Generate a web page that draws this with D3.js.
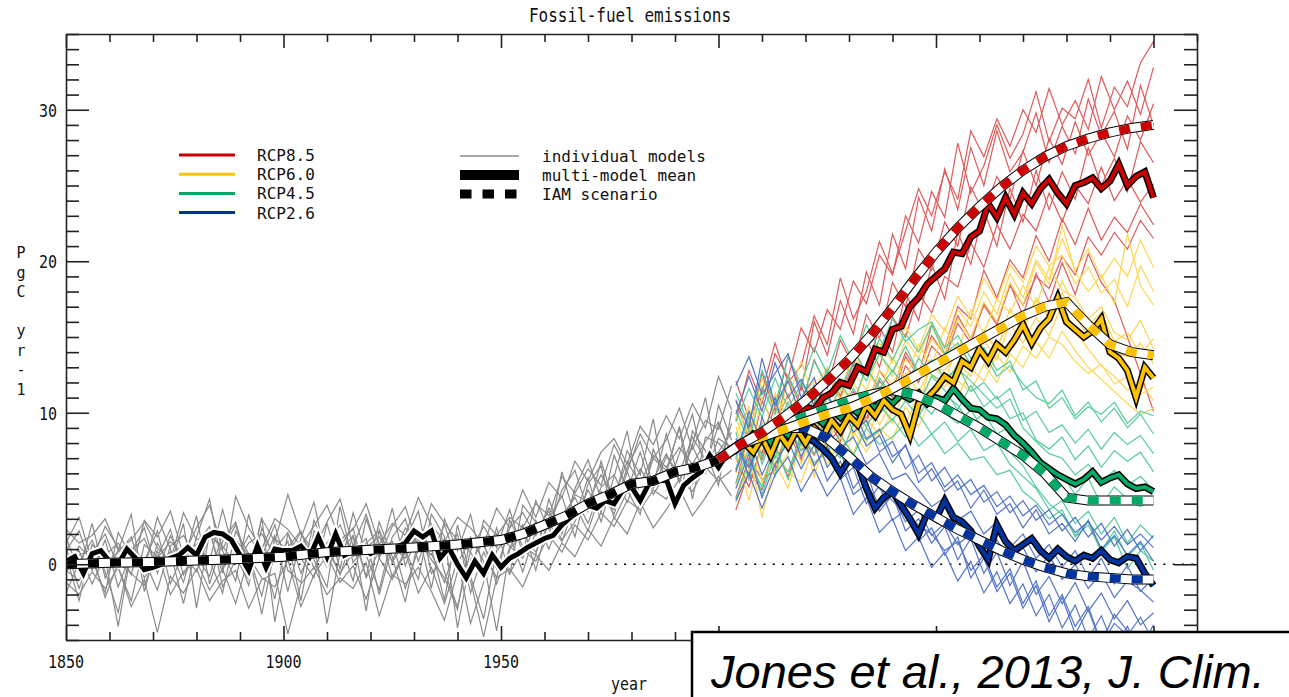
<!DOCTYPE html>
<html>
<head>
<meta charset="utf-8">
<script src="https://cdn.jsdelivr.net/npm/d3@7"></script>
<style>
body { margin: 0; background: #fff; }
</style>
</head>
<body>
<div id="viz"></div>
<script>
// ---- values, PgC / yr ----

// years
var histYears = d3.range(1850, 2004, 3)       // individual models, historical
var rcpYears = d3.range(2004, 2101, 3)        // individual models, scenarios
var histMeanYears = d3.range(1850, 2005, 2)
var rcpMeanYears = d3.range(2006, 2101, 2)
var iamHistYears = [1850,1860,1870,1880,1890,1900,1910,1920,1930,1940,1950,1955,1960,1965,1970,1975,1980,1985,1990,1995,2000]
var iamRcpYears = d3.range(2000, 2101, 5)

// individual models 1850-2003
var hist1 = [1.8,-0.5,2.7,-0.9,0.9,3.3,-1.8,1.4,-0.1,2.7,-2.9,2.1,0.9,-1.1,3.3,-0.1,1.9,-1.8,1.7,4.1,0.0,1.5,-1.1,3.0,0.5,3.7,-0.1,2.1,-1.6,3.0,0.9,3.3,-0.4,2.4,-0.7,3.9,2.8,1.8,6.1,3.1,5.7,2.8,5.8,8.8,4.3,7.0,6.2,9.0,4.3,8.4,8.0,6.9]
var hist2 = [0.9,2.2,-0.4,1.6,-1.5,0.8,2.4,-0.6,1.9,0.1,3.2,-1.3,1.5,2.8,-0.2,1.0,-2.3,2.0,0.4,-0.9,2.7,-0.3,3.4,0.6,-1.7,1.8,3.0,0.2,2.6,-0.5,-2.8,0.9,2.5,1.1,3.6,0.7,4.2,2.3,4.9,6.2,3.5,6.8,4.1,7.5,5.9,9.6,4.8,7.3,9.9,6.1,10.5,8.2]
var hist3 = [-0.6,1.2,0.3,-1.9,2.1,0.5,-0.4,3.1,1.0,-1.2,1.8,4.3,-0.3,0.9,-1.4,2.4,0.3,1.5,-2.4,2.2,1.3,-0.7,1.9,-3.1,2.3,0.1,1.6,3.5,-0.6,0.4,2.0,-1.9,0.8,-0.9,2.9,1.2,0.6,4.3,2.0,5.0,6.9,4.3,3.6,6.4,8.1,5.2,8.6,5.5,7.9,11.0,6.4,9.3]
var hist4 = [1.1,-1.6,0.8,2.0,-0.2,-2.4,1.3,0.5,2.3,-0.7,1.0,0.2,3.6,0.4,-1.0,3.1,-3.8,0.7,2.1,0.3,-1.5,3.8,0.1,1.4,2.2,-0.8,0.9,-1.0,3.3,1.8,-4.2,0.3,1.4,-1.3,1.1,2.6,-0.4,3.0,4.5,1.8,5.3,6.5,3.0,4.8,7.4,4.6,6.0,9.1,5.3,6.5,9.2,7.4]
var hist5 = [0.4,0.9,-1.3,0.6,1.4,-0.1,0.3,-1.7,1.2,1.9,0.5,-0.8,2.0,1.6,0.6,-2.1,1.7,0.9,0.4,1.6,-0.2,1.2,2.4,-0.9,0.9,1.5,-1.6,1.0,0.7,-1.2,1.5,0.8,-0.8,2.0,1.2,0.4,2.9,1.0,3.2,4.4,2.7,5.1,5.9,4.1,6.3,5.0,7.1,6.0,8.4,6.9,7.4,8.7]
var hist6 = [-1.9,0.1,1.6,-0.5,-3.2,1.1,0.2,2.2,-1.3,0.8,1.3,2.5,-1.5,0.3,1.9,0.5,2.6,-0.4,-1.2,2.9,1.0,-0.6,0.8,1.7,-2.0,1.2,0.4,2.2,1.1,-2.4,2.6,-0.8,-3.6,0.9,1.9,-0.5,2.2,3.5,1.6,2.8,4.9,3.4,7.2,4.9,3.3,7.6,5.5,4.0,8.8,7.5,5.2,10.1]
var hist7 = [2.3,1.4,1.9,3.0,0.9,1.6,2.8,1.1,0.2,3.4,1.6,2.1,-0.6,4.5,2.4,1.0,3.0,2.3,1.2,2.5,3.9,1.6,2.3,4.0,1.3,2.7,1.9,4.4,2.6,1.5,3.1,2.4,1.3,3.7,2.4,4.9,3.1,5.4,4.4,6.8,5.5,7.4,8.3,6.6,9.1,7.9,9.8,8.3,10.6,9.0,12.4,10.2]
var hist8 = [-1.2,-2.0,-0.5,-1.6,-0.2,-2.8,-1.0,-4.5,-0.8,-1.9,-0.3,-2.4,-1.1,-0.4,-2.9,-1.0,-0.6,-4.6,-1.3,-0.2,-2.0,-0.9,-1.6,0.1,-3.4,-0.7,-1.3,-0.2,-1.8,-3.7,-0.5,-1.1,-4.8,-0.9,-0.3,-1.5,0.6,-0.4,1.4,0.5,2.3,1.2,3.1,2.0,4.1,2.4,3.6,5.0,3.2,4.4,5.8,4.5]
var hist9 = [0.0,0.6,1.0,0.2,0.8,1.8,-0.9,0.4,1.5,0.7,-0.5,1.9,1.2,0.0,1.4,2.0,0.6,1.1,2.2,-0.3,1.4,2.6,0.5,1.1,1.8,0.2,2.4,1.3,0.6,2.6,0.1,1.6,1.2,-0.3,2.4,3.4,1.9,3.7,2.6,4.6,4.1,5.9,4.4,6.8,5.3,7.2,6.4,7.7,6.6,8.1,9.4,7.1]
var hist10 = [0.6,-2.4,1.3,0.4,-4.1,0.9,1.7,-0.3,0.8,-2.6,1.2,0.3,-1.9,2.2,0.7,-3.3,1.0,2.1,-0.6,1.4,-3.9,0.8,1.9,-0.8,2.8,0.5,-2.5,1.7,0.3,-0.9,-3.0,1.8,0.2,-4.4,1.0,2.0,0.8,2.7,1.5,3.9,2.2,4.8,3.3,6.1,4.0,5.6,7.3,5.4,7.8,6.0,8.3,7.7]
var hist11 = [1.4,3.1,0.2,2.5,1.1,-0.7,2.9,1.8,3.5,0.6,2.4,3.9,1.0,2.6,-0.4,3.0,1.5,4.6,2.0,0.9,2.8,4.3,1.2,3.3,0.4,2.5,3.8,1.1,4.0,2.7,1.6,-0.8,2.9,1.9,3.1,2.4,4.0,3.2,5.8,4.7,6.3,5.2,7.9,6.1,8.6,7.0,8.2,10.3,7.6,9.5,8.9,11.8]
var hist12 = [-0.4,-1.1,0.7,-2.2,0.1,-0.6,-1.4,0.9,-2.0,-0.5,0.2,-1.7,-0.3,-2.6,0.5,-0.9,-1.5,0.3,-2.8,-0.7,0.6,-1.2,-0.1,-2.3,0.4,-1.0,0.8,-1.9,-0.2,-2.6,0.3,-3.9,-1.2,0.6,-0.6,1.0,0.2,1.9,0.8,2.6,1.6,3.4,2.5,4.2,3.6,4.9,4.3,5.6,4.8,6.4,5.5,6.2]

// individual models 2004-2100
var rcp85_1 = [9.5,12.8,10.6,13.9,12.3,15.6,14.0,16.8,15.5,18.7,17.2,20.4,19.1,23.0,21.2,24.6,22.9,27.8,24.5,26.3,29.0,26.8,28.4,31.2,27.9,30.1,29.4,32.0,28.8,31.5,30.2,33.1,34.5]
var rcp85_2 = [8.1,6.5,10.9,9.0,12.4,10.3,13.5,11.6,14.8,13.1,16.5,14.9,18.6,17.0,20.8,19.4,22.6,21.0,24.9,23.2,25.6,24.1,27.3,25.0,28.1,26.4,29.2,27.0,28.5,26.9,29.6,28.0,30.4]
var rcp85_3 = [6.2,9.4,7.3,10.6,8.4,11.8,9.6,12.5,10.9,14.2,12.6,15.7,14.0,17.9,16.1,19.8,17.5,21.9,19.8,23.4,21.0,24.8,22.6,26.0,23.4,25.9,24.1,27.5,25.0,26.8,24.6,27.9,26.5]
var rcp85_4 = [4.4,7.0,5.6,6.2,8.8,6.9,9.7,7.9,9.0,10.8,9.6,12.1,11.0,13.7,12.4,15.8,14.3,17.0,16.2,19.4,17.6,20.1,18.9,21.7,20.0,22.8,21.1,23.5,21.4,22.9,21.9,23.8,22.4]
var rcp85_5 = [7.0,5.1,8.0,6.4,9.1,7.5,8.6,10.2,8.9,11.4,10.3,12.8,11.5,14.0,12.6,15.1,13.8,16.4,14.9,17.1,15.8,18.5,16.4,19.2,17.3,19.9,17.8,20.5,18.6,17.4,15.0,12.6,10.1]
var rcp85_6 = [10.8,8.3,12.6,10.1,13.7,11.5,16.0,13.8,17.4,15.2,19.3,17.1,21.8,19.5,24.2,22.0,26.1,23.4,27.5,25.0,28.6,25.9,27.2,29.8,26.5,28.9,27.1,30.7,28.3,29.9,27.4,31.6,29.0]
var rcp85_7 = [5.3,8.7,6.9,9.3,11.2,8.5,10.6,12.9,11.1,13.2,14.9,13.0,16.3,15.0,17.9,16.6,19.0,18.3,21.2,19.6,22.4,20.8,23.1,22.0,24.5,22.6,25.0,23.8,26.2,24.0,25.4,23.9,25.1]
var rcp85_8 = [12.1,9.6,11.4,14.6,12.0,13.1,16.4,14.5,18.9,16.2,18.0,21.3,19.2,22.0,24.8,23.0,25.9,24.1,28.6,26.9,29.4,27.6,30.0,28.5,31.4,29.0,30.6,28.7,32.2,30.0,31.9,29.7,32.8]
var rcp85_9 = [3.6,6.1,4.9,7.7,5.8,8.4,7.2,9.6,8.1,10.5,9.4,11.6,10.7,13.1,12.0,14.4,13.5,15.9,14.6,17.2,16.0,18.4,17.1,19.0,18.2,20.3,19.1,21.6,20.4,21.9,20.8,22.7,21.5]

var rcp60_1 = [9.8,7.1,11.0,8.8,12.2,9.5,11.6,13.0,10.9,12.7,11.5,13.9,12.4,14.8,13.6,15.9,14.2,16.8,15.7,18.0,16.5,19.2,17.6,20.1,18.8,21.5,19.4,20.8,18.9,20.2,19.0,21.4,19.6]
var rcp60_2 = [6.0,8.9,5.4,7.8,9.9,6.6,9.0,7.7,10.3,8.4,11.1,9.2,10.8,12.3,10.4,13.4,12.0,14.6,13.1,15.5,14.0,16.9,15.3,17.6,16.2,18.7,16.9,15.8,16.6,14.7,15.3,13.8,14.9]
var rcp60_3 = [7.5,4.2,8.1,6.0,7.3,9.4,5.8,8.6,7.2,9.1,8.0,10.6,9.3,11.8,10.1,12.5,11.7,13.3,12.4,14.8,13.5,15.9,14.6,16.3,15.1,17.2,15.4,14.2,13.1,12.4,11.5,12.0,10.8]
var rcp60_4 = [8.6,10.4,7.9,11.3,9.6,10.8,12.1,9.9,11.7,10.6,12.9,11.4,13.6,12.2,14.5,13.1,15.6,14.0,16.8,15.2,17.5,16.6,18.4,17.0,19.6,18.1,17.6,16.2,17.0,15.3,14.8,16.1,14.2]
var rcp60_5 = [5.2,7.6,3.1,6.8,5.0,8.1,6.4,7.9,5.9,8.8,7.4,9.0,8.2,10.4,9.1,11.0,10.3,12.1,11.4,13.2,12.0,13.9,13.0,14.7,13.6,15.4,14.1,13.0,12.2,11.4,10.6,9.9,10.3]
var rcp60_6 = [9.1,6.3,8.7,10.6,7.8,9.7,8.4,11.2,9.8,12.0,10.5,12.8,11.9,13.5,12.7,14.9,13.8,16.2,14.9,17.3,16.0,18.6,17.1,19.9,18.5,22.4,19.3,18.0,19.1,17.2,21.8,18.4,17.1]
var rcp60_7 = [6.8,8.0,9.4,7.0,8.5,7.6,10.0,8.2,9.5,11.0,9.0,11.7,10.2,12.6,11.4,13.0,12.8,13.9,13.2,15.1,14.4,16.0,15.7,17.4,16.5,17.9,16.3,15.1,15.8,14.0,13.7,14.6,13.2]
var rcp60_8 = [10.9,8.4,12.3,9.9,11.0,13.4,10.8,12.2,11.4,13.8,12.5,14.6,13.3,15.7,14.2,16.5,15.4,17.7,16.3,18.9,17.4,19.8,18.6,21.0,19.7,20.4,18.5,19.6,17.9,18.8,17.0,19.7,18.0]
var rcp60_9 = [4.1,6.3,5.2,7.5,6.1,5.4,7.9,6.6,8.4,7.3,9.6,8.5,10.1,9.2,11.3,10.4,12.2,11.0,12.9,12.1,13.8,12.7,14.4,13.6,15.0,14.5,13.4,12.6,13.2,11.9,12.4,11.2,11.7]

var rcp45_1 = [10.2,8.0,11.7,9.9,12.5,10.6,13.4,11.8,12.9,14.2,12.6,14.9,13.5,15.2,14.0,15.8,13.9,14.6,13.2,14.0,12.4,13.1,11.9,11.0,10.6,11.5,9.8,10.7,9.4,10.3,9.0,9.9,8.6]
var rcp45_2 = [6.3,8.9,7.1,9.6,8.3,10.4,8.7,11.0,9.8,11.6,10.2,12.3,11.1,12.0,10.6,12.4,11.5,10.2,11.8,10.4,11.1,9.6,10.0,8.2,7.6,8.4,6.9,7.8,6.4,7.5,6.8,7.4,6.1]
var rcp45_3 = [8.7,5.5,9.2,7.0,10.1,7.8,9.0,8.1,10.6,9.2,11.4,10.0,10.6,11.9,10.8,9.9,11.2,10.5,9.2,10.0,8.6,9.1,7.4,6.8,5.2,5.9,4.6,5.7,3.9,5.1,4.3,3.8,4.4]
var rcp45_4 = [7.0,9.8,6.6,8.9,10.7,8.4,11.1,9.3,11.9,10.7,13.0,11.6,12.8,11.7,13.6,12.5,12.0,13.1,11.4,12.0,10.9,11.6,9.5,10.1,8.7,9.2,8.0,8.9,7.6,8.7,7.9,8.5,7.3]
var rcp45_5 = [5.4,7.7,4.6,7.2,6.1,8.6,7.3,8.0,7.0,9.3,8.2,8.8,9.6,8.4,9.9,8.6,9.4,8.1,8.9,7.5,8.0,6.6,5.8,5.0,3.6,4.2,2.7,3.5,2.0,3.1,1.4,2.6,1.7]
var rcp45_6 = [9.4,11.6,9.7,12.3,10.3,11.9,10.8,12.8,11.6,13.3,12.1,13.9,12.7,14.4,12.6,13.5,12.3,12.9,12.1,11.2,10.3,10.9,9.0,8.1,7.3,7.0,5.9,6.6,5.4,6.2,5.2,5.8,4.9]
var rcp45_7 = [7.9,6.4,8.3,5.8,9.0,7.5,8.2,9.7,8.5,10.1,9.1,10.5,9.5,10.8,9.7,11.4,10.0,9.3,10.2,8.8,8.5,7.4,6.5,5.1,4.0,3.3,1.9,2.9,0.8,1.8,-0.3,0.9,0.2]
var rcp45_8 = [11.3,9.2,12.8,10.5,13.7,11.9,14.3,12.6,15.1,13.4,15.8,14.1,16.2,14.7,15.5,16.0,14.3,15.1,13.6,14.3,12.8,13.4,11.5,12.1,10.3,11.0,9.6,10.4,9.9,10.7,9.3,10.1,9.8]
var rcp45_9 = [4.3,6.8,5.1,7.9,5.6,8.2,6.7,7.4,8.6,7.2,9.0,7.9,8.4,9.3,7.8,8.6,7.3,8.0,6.9,7.1,5.9,6.2,4.8,4.1,3.0,3.6,1.8,2.6,0.9,2.2,0.5,1.4,-0.4]

var rcp26_1 = [9.9,12.4,10.1,13.3,11.0,12.2,10.5,11.3,9.4,10.2,8.3,8.9,7.1,7.8,6.0,6.7,5.1,5.9,4.6,5.2,3.8,4.5,3.2,3.9,2.6,3.3,2.1,2.8,1.6,2.5,1.3,2.0,1.1]
var rcp26_2 = [6.1,8.5,5.9,7.8,9.4,7.1,8.9,6.4,7.5,5.0,6.2,3.5,4.6,2.2,3.0,1.4,2.5,0.3,1.7,-0.6,0.8,-1.4,0.2,-2.0,-0.8,-2.6,-1.2,-3.1,-1.9,-3.6,-2.4,-4.0,-3.2]
var rcp26_3 = [8.3,5.8,9.7,7.6,10.2,8.0,9.6,8.8,7.7,8.4,6.6,7.3,5.6,6.0,4.9,3.8,4.4,2.9,3.5,2.0,2.8,1.1,2.0,0.4,1.3,-0.2,0.9,-0.9,0.4,-1.3,-0.1,-1.8,-0.9]
var rcp26_4 = [7.2,10.1,8.0,9.2,7.4,10.6,8.8,9.0,7.6,6.9,6.1,5.0,4.2,3.3,2.6,2.0,0.9,1.5,-0.4,0.6,-1.5,-0.3,-2.6,-1.1,-3.4,-2.0,-4.1,-2.8,-5.2,-3.3,-4.4,-5.6,-4.0]
var rcp26_5 = [5.0,7.3,4.4,6.6,8.1,6.3,7.9,5.5,6.8,4.6,5.3,3.9,4.5,2.8,3.6,1.9,2.7,1.3,2.0,0.9,1.6,0.3,1.1,-0.5,0.6,-1.0,0.0,-1.6,-0.6,-2.2,-1.1,-1.7,-2.5]
var rcp26_6 = [10.8,9.0,13.6,10.5,12.1,9.8,11.8,10.1,9.2,9.6,7.8,8.5,6.7,7.9,5.4,6.3,4.8,5.5,3.7,4.9,3.3,4.0,2.4,3.6,2.0,2.7,1.5,2.9,1.0,1.9,0.6,1.5,0.2]
var rcp26_7 = [7.6,6.4,8.2,11.0,7.9,8.7,6.5,7.8,5.6,6.4,4.0,5.2,2.9,3.6,1.5,2.4,0.6,1.8,-0.9,0.4,-1.8,-0.6,-2.9,-1.4,-3.8,-2.2,-4.6,-3.0,-5.3,-3.9,-4.7,-3.5,-5.1]
var rcp26_8 = [11.8,13.7,11.2,12.6,13.9,11.0,12.3,9.9,10.8,8.7,9.5,7.4,8.1,6.3,7.2,5.5,6.4,4.9,5.6,4.1,4.8,3.4,4.2,2.9,3.6,2.2,3.1,1.8,2.7,1.2,2.3,0.9,1.9]
var rcp26_9 = [4.2,6.0,3.7,5.9,7.1,4.8,6.3,4.5,5.7,3.3,4.4,2.1,3.0,0.9,1.8,-0.2,0.8,-1.1,0.2,-1.9,-0.5,-2.6,-1.3,-3.4,-2.0,-4.2,-2.7,-4.9,-3.4,-5.5,-4.1,-6.0,-4.8]

// multi-model means
var histMean = [0.2,0.5,-0.6,0.7,0.9,0.2,0.0,1.0,0.4,-0.35,-0.2,0.0,0.4,0.6,1.1,0.6,1.8,2.1,2.0,1.6,0.6,-0.4,1.2,-0.2,1.0,0.9,0.9,1.2,0.5,1.8,0.5,2.0,0.6,0.9,1.1,0.7,1.0,1.0,1.1,1.4,2.2,1.8,2.2,0.4,1.1,0.0,-0.9,0.2,-0.6,0.6,-0.2,0.4,0.7,1.1,1.4,1.7,1.9,2.6,3.1,3.5,3.9,3.7,4.2,4.0,4.9,5.1,4.2,5.3,5.5,5.6,4.0,5.2,5.7,6.1,7.2,6.4,7.3,7.7]
var mean85 = [8.0,8.6,8.3,9.2,9.0,9.8,9.5,10.4,10.2,11.0,11.3,12.0,11.8,13.0,12.7,14.2,14.0,15.5,15.7,17.0,17.6,18.5,19.0,19.5,20.6,20.5,21.6,22.0,23.8,22.9,24.2,23.1,24.5,23.8,24.8,25.4,24.5,23.8,25.0,25.2,25.5,24.8,25.3,26.4,25.0,25.6,25.9,24.2]
var mean60 = [8.0,7.4,8.4,7.2,8.6,7.8,8.9,8.0,9.0,8.4,9.5,8.8,9.8,9.2,10.5,9.8,10.8,10.2,9.9,8.5,10.6,11.0,11.6,12.4,12.0,13.4,13.0,14.2,13.4,14.5,14.0,14.8,15.8,14.6,15.6,16.2,17.6,16.0,15.5,15.0,15.4,16.2,14.0,13.6,12.8,11.0,13.0,12.3]
var mean45 = [8.1,7.6,8.6,8.0,9.0,8.5,9.4,9.0,9.8,9.3,10.2,9.7,10.4,10.0,10.9,10.3,11.0,10.6,11.2,10.9,11.3,10.6,11.0,10.8,11.6,10.9,10.3,10.2,9.7,9.6,9.2,8.5,8.0,7.4,6.7,6.3,5.9,5.6,5.3,5.6,6.1,5.4,5.7,5.9,5.3,5.0,5.1,4.8]
var mean26 = [8.0,7.5,8.5,7.9,8.8,8.2,8.9,8.4,8.1,7.6,7.0,6.0,6.9,6.6,5.0,3.7,4.4,4.8,3.9,3.0,2.0,3.4,3.0,4.2,3.1,2.8,2.2,1.2,0.3,2.6,1.5,0.9,1.3,1.7,0.9,0.4,1.0,0.5,0.2,0.6,0.4,0.9,0.3,0.1,0.5,0.4,-0.6,-1.4]

// IAM scenarios
var iamHist = [0.0,0.1,0.15,0.25,0.35,0.5,0.8,0.95,1.1,1.3,1.6,2.0,2.6,3.2,4.0,4.6,5.3,5.5,6.1,6.4,6.9]
var iam85 = [6.9,7.9,8.7,9.7,10.8,12.1,13.5,15.1,16.9,18.8,20.6,22.2,23.6,24.9,26.0,26.9,27.6,28.1,28.5,28.8,29.0]
var iam60 = [6.9,7.9,8.4,8.9,9.4,9.9,10.3,10.9,11.6,12.4,13.2,14.0,14.8,15.6,16.4,17.0,17.3,15.8,14.5,14.0,13.8]
var iam45 = [6.9,7.9,8.6,9.2,9.8,10.3,10.8,11.2,11.5,11.2,10.6,9.8,9.0,8.1,7.2,6.0,4.4,4.2,4.2,4.2,4.2]
var iam26 = [6.9,7.9,8.6,9.0,9.0,8.3,7.1,5.8,4.8,3.9,3.1,2.3,1.6,0.9,0.3,-0.2,-0.6,-0.8,-0.9,-1.0,-1.0]

// tick labels (2000-2100 labels sit under the citation box in the original)
var yLabels = [0, 10, 20, 30]
var xLabels = [1850, 1900, 1950]

var histModels = [hist1, hist2, hist3, hist4, hist5, hist6, hist7, hist8, hist9, hist10, hist11, hist12]
var scenarios = [
  {name: "RCP8.5", models: [rcp85_1,rcp85_2,rcp85_3,rcp85_4,rcp85_5,rcp85_6,rcp85_7,rcp85_8,rcp85_9], mean: mean85, iam: iam85, light: "#de5a5a", dark: "#cc0000"},
  {name: "RCP6.0", models: [rcp60_1,rcp60_2,rcp60_3,rcp60_4,rcp60_5,rcp60_6,rcp60_7,rcp60_8,rcp60_9], mean: mean60, iam: iam60, light: "#ffd552", dark: "#ffc200"},
  {name: "RCP4.5", models: [rcp45_1,rcp45_2,rcp45_3,rcp45_4,rcp45_5,rcp45_6,rcp45_7,rcp45_8,rcp45_9], mean: mean45, iam: iam45, light: "#55cb9c", dark: "#00aa66"},
  {name: "RCP2.6", models: [rcp26_1,rcp26_2,rcp26_3,rcp26_4,rcp26_5,rcp26_6,rcp26_7,rcp26_8,rcp26_9], mean: mean26, iam: iam26, light: "#5475c9", dark: "#0033a0"}
]

var MONO = "'DejaVu Sans Mono', 'Liberation Mono', monospace"
var W = 1289, H = 697
var plot = {left: 66, right: 1197, top: 34, bottom: 640}

var svg = d3.select("#viz").append("svg")
  .attr("width", W)
  .attr("height", H)
  .style("display", "block")
  .style("background", "#fff")

// step 1 : scales ----
var x = d3.scaleLinear().domain([1850, 2110]).range([plot.left, plot.right])
var y = d3.scaleLinear().domain([-5, 35]).range([plot.bottom, plot.top])

function lineFor(years) {
  return d3.line()
    .x(function(d, i) { return x(years[i]) })
    .y(function(d) { return y(d) })
}

// stretched mono text, like the old plotting font
function label(txt, px, py, size, anchor, sy) {
  return svg.append("text")
    .attr("transform", "translate(" + px + "," + py + ") scale(1," + (sy || 1.2) + ")")
    .attr("font-family", MONO)
    .attr("font-size", size)
    .attr("fill", "#111")
    .attr("text-anchor", anchor || "start")
    .text(txt)
}

svg.append("clipPath").attr("id", "clip")
  .append("rect")
  .attr("x", plot.left).attr("y", plot.top)
  .attr("width", plot.right - plot.left).attr("height", plot.bottom - plot.top)

var g = svg.append("g").attr("clip-path", "url(#clip)")

// zero line
g.append("line")
  .attr("x1", x.range()[0]).attr("x2", x.range()[1])
  .attr("y1", y(0)).attr("y2", y(0))
  .attr("stroke", "#000")
  .attr("stroke-width", 1.6)
  .attr("stroke-dasharray", "2,7.3")

// step 2 : individual models ----
g.append("g").selectAll("path")
  .data(histModels)
  .enter().append("path")
    .attr("d", lineFor(histYears))
    .attr("fill", "none")
    .attr("stroke", "#8a8a8a")
    .attr("stroke-width", 1.2)

scenarios.forEach(function(s) {
  g.append("g").selectAll("path")
    .data(s.models)
    .enter().append("path")
      .attr("d", lineFor(rcpYears))
      .attr("fill", "none")
      .attr("stroke", s.light)
      .attr("stroke-width", 1.2)
})

// step 3 : multi-model means ----
g.append("path").datum(histMean)
  .attr("d", lineFor(histMeanYears))
  .attr("fill", "none").attr("stroke", "#fff").attr("stroke-width", 9)
g.append("path").datum(histMean)
  .attr("d", lineFor(histMeanYears))
  .attr("fill", "none").attr("stroke", "#000").attr("stroke-width", 5)

scenarios.slice().reverse().forEach(function(s) {
  g.append("path").datum(s.mean)
    .attr("d", lineFor(rcpMeanYears))
    .attr("fill", "none").attr("stroke", "#000").attr("stroke-width", 7)
  g.append("path").datum(s.mean)
    .attr("d", lineFor(rcpMeanYears))
    .attr("fill", "none").attr("stroke", s.dark).attr("stroke-width", 4)
})

// step 4 : IAM scenarios (dashed) ----
function iamLine(vals, years, col) {
  var gen = lineFor(years)
  g.append("path").datum(vals).attr("d", gen)
    .attr("fill", "none").attr("stroke", "#000").attr("stroke-width", 10)
  g.append("path").datum(vals).attr("d", gen)
    .attr("fill", "none").attr("stroke", "#fff").attr("stroke-width", 8)
  g.append("path").datum(vals).attr("d", gen)
    .attr("fill", "none").attr("stroke", col).attr("stroke-width", 8)
    .attr("stroke-dasharray", "11,11")
}

iamLine(iamHist, iamHistYears, "#000")
scenarios.slice().reverse().forEach(function(s) {
  iamLine(s.iam, iamRcpYears, s.dark)
})

// step 5 : axes, ticks inside on all four sides ----
function styleAxis(sel) {
  sel.selectAll("path").attr("stroke", "#222").attr("stroke-width", 1.6)
  sel.selectAll("line").attr("stroke", "#222").attr("stroke-width", 1.6)
}

var xTicks = d3.range(1850, 2111, 10)
var yTicks = d3.range(-5, 36, 1)

var top_axis = svg.append("g")
  .attr("transform", "translate(0," + plot.top + ")")
  .call(d3.axisBottom(x).tickValues(xTicks).tickSize(8).tickSizeOuter(0).tickFormat(""))
top_axis.selectAll(".tick line").attr("y2", function(d) { return d % 50 == 0 ? 14 : 8 })

var bottom_axis = svg.append("g")
  .attr("transform", "translate(0," + plot.bottom + ")")
  .call(d3.axisTop(x).tickValues(xTicks).tickSize(8).tickSizeOuter(0).tickFormat(""))
bottom_axis.selectAll(".tick line").attr("y2", function(d) { return d % 50 == 0 ? -14 : -8 })

var left_axis = svg.append("g")
  .attr("transform", "translate(" + plot.left + ",0)")
  .call(d3.axisRight(y).tickValues(yTicks).tickSize(13).tickSizeOuter(0).tickFormat(""))
left_axis.selectAll(".tick line").attr("x2", function(d) { return d % 10 == 0 ? 23 : 13 })

var right_axis = svg.append("g")
  .attr("transform", "translate(" + plot.right + ",0)")
  .call(d3.axisLeft(y).tickValues(yTicks).tickSize(13).tickSizeOuter(0).tickFormat(""))
right_axis.selectAll(".tick line").attr("x2", function(d) { return d % 10 == 0 ? -23 : -13 })

;[top_axis, bottom_axis, left_axis, right_axis].forEach(styleAxis)

// tick labels
yLabels.forEach(function(v) { label(String(v), 57, y(v) + 7, 15, "end") })
xLabels.forEach(function(v) { label(String(v), x(v), 668, 15, "middle") })

// titles
label("Fossil-fuel emissions", 630, 22, 16, "middle")
label("year", 629, 690, 15, "middle")

var ylab = ["P", "g", "C", " ", "y", "r", "-", "1"]
ylab.forEach(function(c, i) { label(c, 21, 258 + i * 19.5, 15, "middle", 1.1) })

// step 6 : legends ----
scenarios.forEach(function(s, i) {
  var ly = 155 + i * 19.2
  svg.append("line")
    .attr("x1", 179).attr("x2", 235).attr("y1", ly).attr("y2", ly)
    .attr("stroke", s.dark).attr("stroke-width", 3)
  label(s.name, 257, ly + 6, 16, "start", 1.0)
})

svg.append("line")
  .attr("x1", 460).attr("x2", 519).attr("y1", 156).attr("y2", 156)
  .attr("stroke", "#8a8a8a").attr("stroke-width", 1.5)
label("individual models", 542, 162, 16, "start", 1.0)

svg.append("line")
  .attr("x1", 460).attr("x2", 519).attr("y1", 175).attr("y2", 175)
  .attr("stroke", "#000").attr("stroke-width", 10)
label("multi-model mean", 542, 181, 16, "start", 1.0)

svg.append("line")
  .attr("x1", 460).attr("x2", 517).attr("y1", 194).attr("y2", 194)
  .attr("stroke", "#000").attr("stroke-width", 9)
  .attr("stroke-dasharray", "11.5,11")
label("IAM scenario", 542, 200, 16, "start", 1.0)

// citation box over the lower right corner
svg.append("rect")
  .attr("x", 692).attr("y", 632)
  .attr("width", 700).attr("height", 120)
  .attr("fill", "#fff")
  .attr("stroke", "#000")
  .attr("stroke-width", 2.5)

svg.append("text")
  .attr("x", 711).attr("y", 688)
  .attr("font-family", "'Liberation Sans', Arial, sans-serif")
  .attr("font-style", "italic")
  .attr("font-size", 47)
  .attr("fill", "#000")
  .text("Jones et al., 2013, J. Clim.")
</script>
</body>
</html>
